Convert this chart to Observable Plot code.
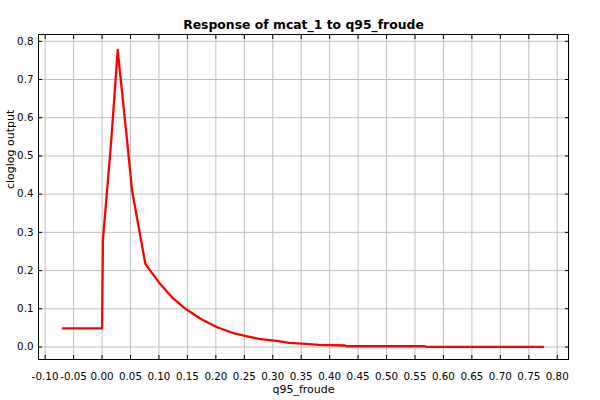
<!DOCTYPE html>
<html>
<head>
<meta charset="utf-8">
<script src="https://cdn.jsdelivr.net/npm/d3@7"></script>
<script src="https://cdn.jsdelivr.net/npm/@observablehq/plot@0.6"></script>
<style>
  html, body { margin: 0; padding: 0; background: #ffffff; }
  #chart svg { display: block; }
</style>
</head>
<body>
<div id="chart"></div>
<script>
const titleText = "Response of mcat_1 to q95_froude";
const xLabel = "q95_froude";
const yLabel = "cloglog output";

const xValues = [-0.069, 0.0, 0.0015, 0.0164, 0.0275, 0.044, 0.0527, 0.066, 0.0761, 0.0996, 0.123, 0.1465, 0.173, 0.2022, 0.2314, 0.249, 0.2754, 0.3105, 0.328, 0.3516, 0.381, 0.427, 0.43, 0.567, 0.569, 0.7754];
const yValues = [0.049, 0.049, 0.279, 0.545, 0.7776, 0.54, 0.4095, 0.30, 0.2177, 0.1696, 0.13, 0.10, 0.0738, 0.0518, 0.0361, 0.030, 0.0214, 0.0152, 0.011, 0.009, 0.0057, 0.004, 0.002, 0.002, 0.0005, 0.0005];

const xTicks = [-0.10, -0.05, 0.00, 0.05, 0.10, 0.15, 0.20, 0.25, 0.30, 0.35, 0.40, 0.45, 0.50, 0.55, 0.60, 0.65, 0.70, 0.75, 0.80];
const yTicks = [0.0, 0.1, 0.2, 0.3, 0.4, 0.5, 0.6, 0.7, 0.8];

const xDomain = [-0.1117, 0.8198];
const yDomain = [-0.0327, 0.8178];

const data = xValues.map((x, i) => ({x, y: yValues[i]}));

const font = "DejaVu Sans";
const gridColor = "#c0c0c0";
const fmt2 = d => (Math.abs(d) < 1e-9 ? 0 : d).toFixed(2);
const fmt1 = d => (Math.abs(d) < 1e-9 ? 0 : d).toFixed(1);

const chart = Plot.plot({
  width: 600,
  height: 400,
  marginTop: 34,
  marginRight: 32,
  marginBottom: 41,
  marginLeft: 38,
  style: {fontFamily: font, background: "#ffffff", color: "#000000"},
  x: {domain: xDomain, label: null},
  y: {domain: yDomain, label: null},
  marks: [
    Plot.gridX(xTicks, {stroke: gridColor, strokeOpacity: 1, strokeWidth: 1}),
    Plot.gridY(yTicks, {stroke: gridColor, strokeOpacity: 1, strokeWidth: 1}),
    Plot.line(data, {x: "x", y: "y", stroke: "#ff0000", strokeWidth: 2.3}),
    Plot.frame({stroke: "#000000"}),
    Plot.axisX(xTicks, {anchor: "bottom", tickSize: -4, tickPadding: 17, tickFormat: fmt2, fontSize: 10.3, label: null}),
    Plot.axisX(xTicks, {anchor: "top", tickSize: -4, tickFormat: () => "", label: null}),
    Plot.axisY(yTicks, {anchor: "left", tickSize: -4, tickPadding: 9, tickFormat: fmt1, fontSize: 10.3, label: null}),
    Plot.axisY(yTicks, {anchor: "right", tickSize: -4, tickFormat: () => "", label: null}),
    Plot.text([titleText], {frameAnchor: "top", dy: -9.5, fontSize: 12.4, fontWeight: "bold", fill: "#000000", lineAnchor: "middle"}),
    Plot.text([xLabel], {frameAnchor: "bottom", dy: 30, fontSize: 11, fill: "#000000", lineAnchor: "middle"}),
    Plot.text([yLabel], {frameAnchor: "left", dx: -28, dy: -8, rotate: -90, fontSize: 11, fill: "#000000", lineAnchor: "middle"})
  ]
});

document.getElementById("chart").appendChild(chart);
</script>
</body>
</html>
